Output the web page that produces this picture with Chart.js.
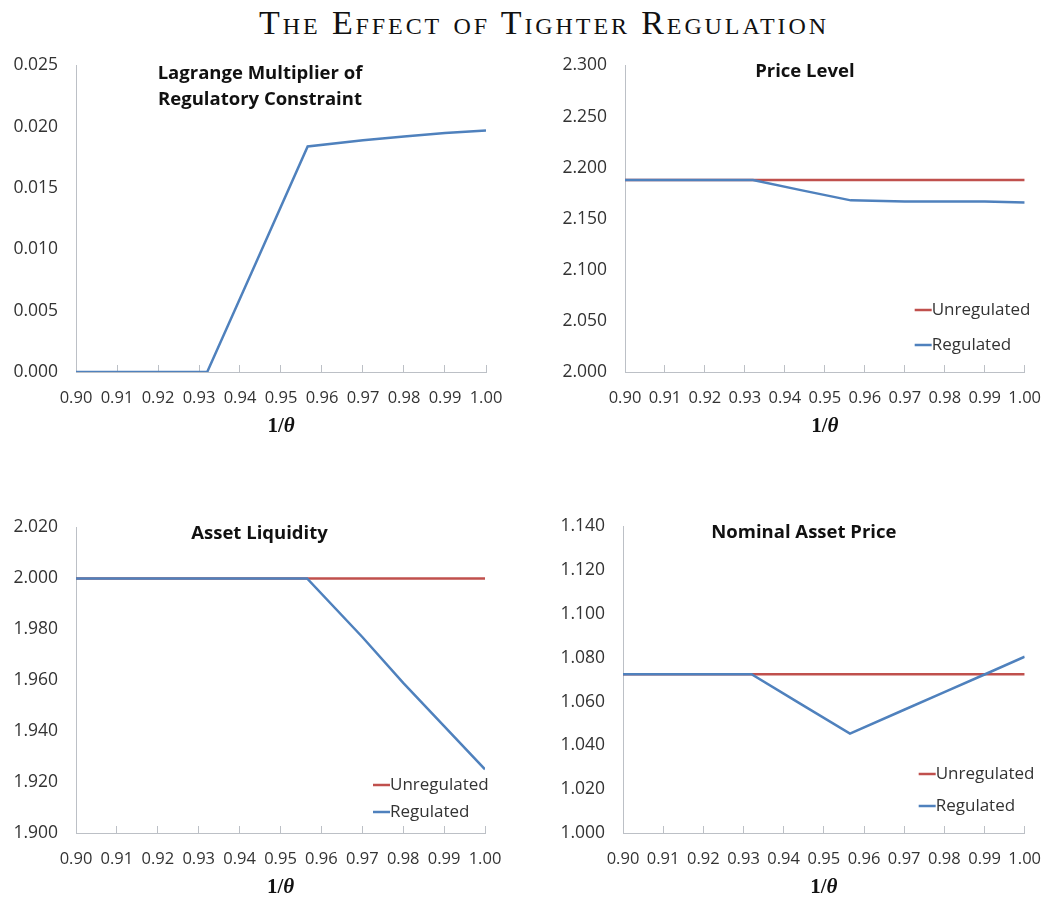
<!DOCTYPE html>
<html>
<head>
<meta charset="utf-8">
<script src="https://cdn.jsdelivr.net/npm/chart.js@4.4.1/dist/chart.umd.min.js"></script>
<style>
  html, body { margin:0; padding:0; background:#fff; }
  body { width:1064px; height:917px; position:relative; overflow:hidden; }
  #mainTitle { position:absolute; left:12px; top:3px; width:1064px; text-align:center;
    font-family:"Liberation Serif","DejaVu Serif",serif; font-variant:small-caps;
    font-size:34px; line-height:40px; color:#111; letter-spacing:2.9px; }
  .box { position:absolute; }
</style>
</head>
<body>
<div id="mainTitle">The Effect of Tighter Regulation</div>
<div class="box" style="left:0px;top:37px;width:530px;height:403px;"><canvas id="c1"></canvas></div>
<div class="box" style="left:530px;top:37px;width:534px;height:403px;"><canvas id="c2"></canvas></div>
<div class="box" style="left:0px;top:499px;width:530px;height:401px;"><canvas id="c3"></canvas></div>
<div class="box" style="left:530px;top:498px;width:534px;height:402px;"><canvas id="c4"></canvas></div>
<script>
// ---------- data ----------
const invTheta = [0.900, 0.932, 0.944, 0.9565, 0.970, 0.980, 0.990, 1.000];

const lagrangeRegulated = [0.0000, 0.0000, 0.0090, 0.0184, 0.0189, 0.0192, 0.0195, 0.0197];

const priceUnregulated = [2.188, 2.188, 2.188, 2.188, 2.188, 2.188, 2.188, 2.188];
const priceRegulated   = [2.188, 2.188, 2.178, 2.168, 2.167, 2.167, 2.167, 2.166];

const liquidityUnregulated = [2.000, 2.000, 2.000, 2.000, 2.000, 2.000, 2.000, 2.000];
const liquidityRegulated   = [2.000, 2.000, 2.000, 2.000, 1.977, 1.959, 1.942, 1.925];

const assetUnregulated = [1.0725, 1.0725, 1.0725, 1.0725, 1.0725, 1.0725, 1.0725, 1.0725];
const assetRegulated   = [1.0725, 1.0725, 1.0592, 1.0454, 1.0563, 1.0643, 1.0724, 1.0805];

const chartTitles = [
  ["Lagrange Multiplier of", "Regulatory Constraint"],
  ["Price Level"],
  ["Asset Liquidity"],
  ["Nominal Asset Price"]
];
const seriesNames = ["Unregulated", "Regulated"];

// ---------- styling ----------
const BLUE = "#4F81BD";
const RED = "#C0504D";
const AXIS = "#bcc0c6";
const TXT = "#333333";
const SANS = "'Open Sans', Lato, sans-serif";

function pts(ys) { return invTheta.map((x, i) => ({ x: x, y: ys[i] })); }

const overlayPlugin = {
  id: "overlay",
  afterDraw(chart) {
    const o = chart.options.plugins.overlay;
    const ctx = chart.ctx;
    const a = chart.chartArea;
    ctx.save();
    // chart title
    ctx.fillStyle = "#111";
    ctx.font = "bold 18.5px " + SANS;
    ctx.textAlign = "center";
    ctx.textBaseline = "middle";
    const cx = (a.left + a.right) / 2 + o.titleDx;
    o.title.forEach((line, i) => ctx.fillText(line, cx, a.top + o.titleDy + i * 26));
    // x axis title 1/θ
    const y = a.bottom + 55;
    const F1 = "bold 21px 'Liberation Serif', serif";
    const F2 = "italic bold 21px 'Liberation Serif', serif";
    ctx.font = F1;
    const w1 = ctx.measureText("1/").width;
    ctx.font = F2;
    const w2 = ctx.measureText("\u03B8").width;
    const xc = (a.left + a.right) / 2;
    const x0 = xc - (w1 + w2) / 2;
    ctx.textAlign = "left";
    ctx.font = F1;
    ctx.fillText("1/", x0, y);
    ctx.font = F2;
    ctx.fillText("\u03B8", x0 + w1, y);
    // legend
    if (o.legend) {
      const L = o.legend;
      const lx = a.right + L.dx;
      const ds = chart.data.datasets.slice().sort((p, q) => p.legendIndex - q.legendIndex);
      ds.forEach((d, i) => {
        const ly = a.bottom + L.dys[i];
        ctx.strokeStyle = d.borderColor;
        ctx.lineWidth = 2.5;
        ctx.beginPath();
        ctx.moveTo(lx, ly);
        ctx.lineTo(lx + 17, ly);
        ctx.stroke();
        ctx.fillStyle = TXT;
        ctx.font = "17px " + SANS;
        ctx.textAlign = "left";
        ctx.textBaseline = "middle";
        ctx.fillText(d.label, lx + 17, ly);
      });
    }
    ctx.restore();
  }
};

function makeChart(id, datasets, yMin, yMax, yStep, yDec, yWidth, xHeight, pad, overlay) {
  return new Chart(document.getElementById(id), {
    type: "line",
    data: { datasets: datasets },
    options: {
      responsive: true,
      maintainAspectRatio: false,
      animation: false,
      layout: { padding: pad },
      elements: { point: { radius: 0 }, line: { tension: 0, borderWidth: 2.5 } },
      plugins: { legend: { display: false }, tooltip: { enabled: false }, overlay: overlay },
      scales: {
        x: {
          type: "linear", min: 0.90, max: 1.00,
          afterFit(s) { s.height = xHeight; },
          ticks: { stepSize: 0.01, padding: 23, color: TXT, font: { family: SANS, size: 16.5 },
                   maxRotation: 0, autoSkip: false,
                   callback: v => Number(v).toFixed(2) },
          grid: { display: true, drawOnChartArea: false, drawTicks: true, tickLength: -7, color: AXIS },
          border: { display: true, color: AXIS, width: 1 }
        },
        y: {
          min: yMin, max: yMax,
          afterFit(s) { s.width = yWidth; },
          ticks: { stepSize: yStep, padding: 18, color: TXT, font: { family: SANS, size: 17.5 },
                   callback: v => Number(v).toFixed(yDec) },
          grid: { display: false, drawTicks: false },
          border: { display: true, color: AXIS, width: 1 }
        }
      }
    },
    plugins: [overlayPlugin]
  });
}

function pair(unreg, reg) {
  return [
    { label: seriesNames[0], data: pts(unreg), borderColor: RED, order: 1, legendIndex: 0 },
    { label: seriesNames[1], data: pts(reg), borderColor: BLUE, order: 0, legendIndex: 1 }
  ];
}

makeChart("c1",
  [{ label: seriesNames[1], data: pts(lagrangeRegulated), borderColor: BLUE, legendIndex: 0 }],
  0, 0.025, 0.005, 3, 76, 68, { top: 0, right: 44, left: 0, bottom: 0 },
  { title: chartTitles[0], titleDx: -21, titleDy: 8, legend: null });

makeChart("c2", pair(priceUnregulated, priceRegulated),
  2.0, 2.3, 0.05, 3, 95, 68, { top: 0, right: 33, left: 0, bottom: 0 },
  { title: chartTitles[1], titleDx: -20, titleDy: 6, legend: { dx: -110, dys: [-62, -27] } });

makeChart("c3", pair(liquidityUnregulated, liquidityRegulated),
  1.9, 2.02, 0.02, 3, 76, 67, { top: 0, right: 45, left: 0, bottom: 0 },
  { title: chartTitles[2], titleDx: -21, titleDy: 6, legend: { dx: -112, dys: [-48, -21] } });

makeChart("c4", pair(assetUnregulated, assetRegulated),
  1.0, 1.14, 0.02, 3, 93, 67, { top: 0, right: 35, left: 0, bottom: 0 },
  { title: chartTitles[3], titleDx: -20, titleDy: 6, legend: { dx: -106, dys: [-59, -27] } });
</script>
</body>
</html>
